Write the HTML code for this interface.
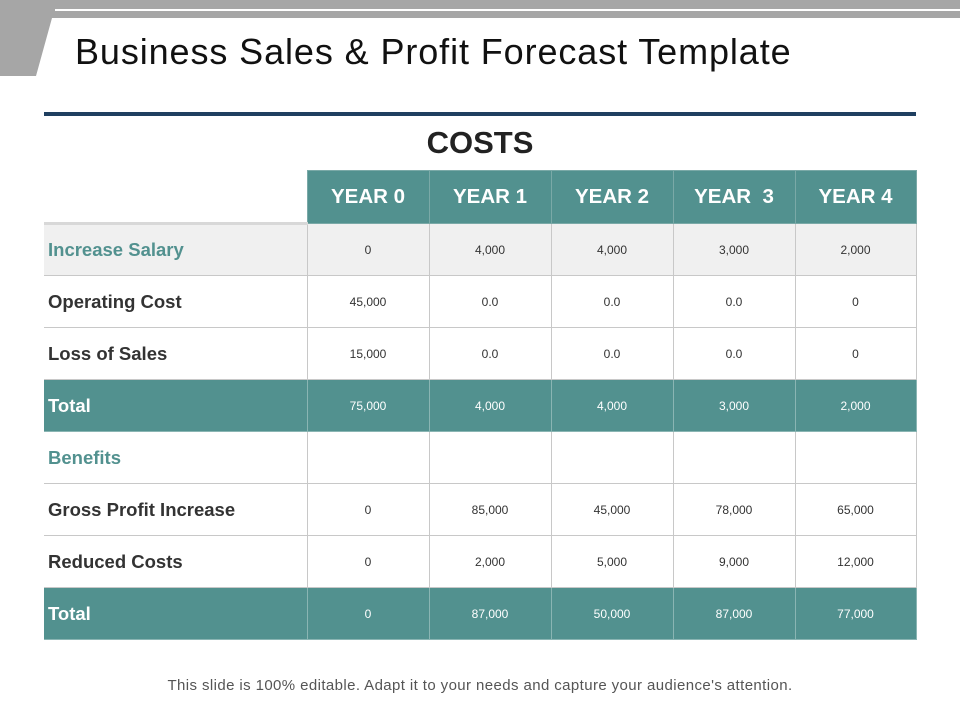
<!DOCTYPE html>
<html><head><meta charset="utf-8"><style>
body{margin:0;width:960px;height:720px;background:#fff;font-family:"Liberation Sans",sans-serif;position:relative;overflow:hidden}
#title{position:absolute;left:75px;top:31px;font-size:36px;color:#111;letter-spacing:0.9px;white-space:nowrap}
#rule{position:absolute;left:44px;top:112px;width:872px;height:4px;background:#1f3f60}
#costs{position:absolute;left:0;width:960px;text-align:center;top:125px;font-size:31px;font-weight:bold;color:#222}
table{position:absolute;left:44px;top:170px;border-collapse:collapse;table-layout:fixed}
td{height:52px;padding:0;border:1px solid #c8c8c8;text-align:center;font-size:12px;color:#333;box-sizing:border-box}
td.l{text-align:left;padding-left:4px;font-size:18.5px;font-weight:bold;border-left:none;border-right:1px solid #c8c8c8}
tr.h td{background:#52918f;color:#fff;font-size:20.5px;font-weight:bold;border-color:#7aa9a7;height:53px}
tr.h td.e{background:#fff;border:none;border-bottom:3px solid #d8d8d8}
tr.g td{background:#f0f0f0}
tr.t td{background:#52918f;color:#fff;border-color:#8ab5b3}
td.c{color:#52918f}
#foot{position:absolute;left:0;width:960px;text-align:center;top:677px;font-size:15px;letter-spacing:0.4px;color:#555}
</style></head><body>
<svg width="960" height="80" style="position:absolute;left:0;top:0">
<polygon points="0,0 960,0 960,18 52,18 36,76 0,76" fill="#a6a6a6"/>
<rect x="55" y="9" width="905" height="2" fill="#fff"/>
</svg>
<div id="title">Business Sales &amp; Profit Forecast Template</div>
<div id="rule"></div>
<div id="costs">COSTS</div>
<table>
<colgroup><col style="width:263px"><col style="width:122px"><col style="width:122px"><col style="width:122px"><col style="width:122px"><col style="width:121px"></colgroup>
<tr class="h"><td class="e"></td><td>YEAR 0</td><td>YEAR 1</td><td>YEAR 2</td><td>YEAR&nbsp; 3</td><td>YEAR 4</td></tr>
<tr class="g"><td class="l c">Increase Salary</td><td>0</td><td>4,000</td><td>4,000</td><td>3,000</td><td>2,000</td></tr>
<tr><td class="l">Operating Cost</td><td>45,000</td><td>0.0</td><td>0.0</td><td>0.0</td><td>0</td></tr>
<tr><td class="l">Loss of Sales</td><td>15,000</td><td>0.0</td><td>0.0</td><td>0.0</td><td>0</td></tr>
<tr class="t"><td class="l">Total</td><td>75,000</td><td>4,000</td><td>4,000</td><td>3,000</td><td>2,000</td></tr>
<tr><td class="l c">Benefits</td><td></td><td></td><td></td><td></td><td></td></tr>
<tr><td class="l">Gross Profit Increase</td><td>0</td><td>85,000</td><td>45,000</td><td>78,000</td><td>65,000</td></tr>
<tr><td class="l">Reduced Costs</td><td>0</td><td>2,000</td><td>5,000</td><td>9,000</td><td>12,000</td></tr>
<tr class="t"><td class="l">Total</td><td>0</td><td>87,000</td><td>50,000</td><td>87,000</td><td>77,000</td></tr>
</table>
<div id="foot">This slide is 100% editable. Adapt it to your needs and capture your audience's attention.</div>
</body></html>
